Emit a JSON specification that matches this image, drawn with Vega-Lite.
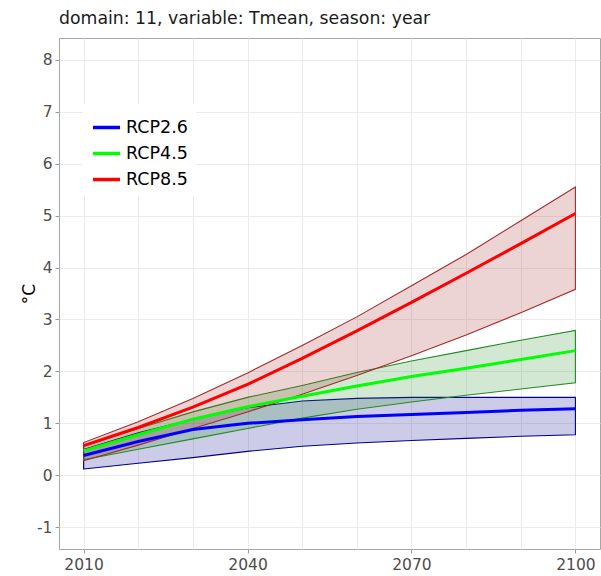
{
  "$schema": "https://vega.github.io/schema/vega-lite/v6.json",
  "width": 541,
  "height": 511,
  "autosize": {"type": "none"},
  "padding": {"left": 59, "top": 38, "right": 1, "bottom": 27},
  "background": "white",
  "title": {"text": "domain: 11, variable: Tmean, season: year", "anchor": "start", "frame": "group", "fontSize": 17.3, "font": "DejaVu Sans", "fontWeight": "normal", "color": "#1a1a1a", "offset": 11},
  "config": {
    "view": {"stroke": "#a6a6a6", "strokeWidth": 1},
    "axis": {"labelFont": "DejaVu Sans", "titleFont": "DejaVu Sans", "labelColor": "#4d4d4d", "labelFontSize": 15.5, "gridColor": "#ebebeb", "gridWidth": 1, "tickColor": "#999999", "tickSize": 4, "domain": false}
  },
  "data": {"values": [
    {"scenario": "RCP2.6", "year": 2010, "mean": 0.38, "lo": 0.12, "hi": 0.50},
    {"scenario": "RCP2.6", "year": 2020, "mean": 0.65, "lo": 0.23, "hi": 0.82},
    {"scenario": "RCP2.6", "year": 2030, "mean": 0.88, "lo": 0.34, "hi": 1.08},
    {"scenario": "RCP2.6", "year": 2040, "mean": 1.00, "lo": 0.46, "hi": 1.30},
    {"scenario": "RCP2.6", "year": 2050, "mean": 1.07, "lo": 0.56, "hi": 1.43},
    {"scenario": "RCP2.6", "year": 2060, "mean": 1.13, "lo": 0.62, "hi": 1.48},
    {"scenario": "RCP2.6", "year": 2070, "mean": 1.17, "lo": 0.67, "hi": 1.50},
    {"scenario": "RCP2.6", "year": 2080, "mean": 1.21, "lo": 0.71, "hi": 1.50},
    {"scenario": "RCP2.6", "year": 2090, "mean": 1.25, "lo": 0.75, "hi": 1.50},
    {"scenario": "RCP2.6", "year": 2100, "mean": 1.28, "lo": 0.78, "hi": 1.50},
    {"scenario": "RCP4.5", "year": 2010, "mean": 0.47, "lo": 0.30, "hi": 0.56},
    {"scenario": "RCP4.5", "year": 2020, "mean": 0.78, "lo": 0.50, "hi": 0.90},
    {"scenario": "RCP4.5", "year": 2030, "mean": 1.08, "lo": 0.70, "hi": 1.22},
    {"scenario": "RCP4.5", "year": 2040, "mean": 1.32, "lo": 0.90, "hi": 1.50},
    {"scenario": "RCP4.5", "year": 2050, "mean": 1.52, "lo": 1.10, "hi": 1.73},
    {"scenario": "RCP4.5", "year": 2060, "mean": 1.72, "lo": 1.27, "hi": 1.98},
    {"scenario": "RCP4.5", "year": 2070, "mean": 1.90, "lo": 1.41, "hi": 2.20},
    {"scenario": "RCP4.5", "year": 2080, "mean": 2.06, "lo": 1.54, "hi": 2.40},
    {"scenario": "RCP4.5", "year": 2090, "mean": 2.23, "lo": 1.66, "hi": 2.60},
    {"scenario": "RCP4.5", "year": 2100, "mean": 2.40, "lo": 1.78, "hi": 2.79},
    {"scenario": "RCP8.5", "year": 2010, "mean": 0.57, "lo": 0.28, "hi": 0.63},
    {"scenario": "RCP8.5", "year": 2020, "mean": 0.92, "lo": 0.58, "hi": 1.03},
    {"scenario": "RCP8.5", "year": 2030, "mean": 1.31, "lo": 0.90, "hi": 1.48},
    {"scenario": "RCP8.5", "year": 2040, "mean": 1.75, "lo": 1.22, "hi": 1.97},
    {"scenario": "RCP8.5", "year": 2050, "mean": 2.25, "lo": 1.56, "hi": 2.50},
    {"scenario": "RCP8.5", "year": 2060, "mean": 2.78, "lo": 1.92, "hi": 3.05},
    {"scenario": "RCP8.5", "year": 2070, "mean": 3.33, "lo": 2.30, "hi": 3.65},
    {"scenario": "RCP8.5", "year": 2080, "mean": 3.89, "lo": 2.70, "hi": 4.25},
    {"scenario": "RCP8.5", "year": 2090, "mean": 4.46, "lo": 3.13, "hi": 4.90},
    {"scenario": "RCP8.5", "year": 2100, "mean": 5.04, "lo": 3.58, "hi": 5.55}
  ]},
  "encoding": {
    "x": {"field": "year", "type": "quantitative", "title": null,
      "scale": {"domain": [2005.5, 2104.5], "nice": false, "zero": false},
      "axis": {"values": [2010, 2020, 2030, 2040, 2050, 2060, 2070, 2080, 2090, 2100], "labelExpr": "datum.value % 30 === 0 ? toString(datum.value) : ''", "tickOpacity": {"condition": {"test": "datum.value % 30 === 0", "value": 1}, "value": 0}, "labelPadding": 4, "labelFlush": false, "labelOverlap": false}}
  },
  "layer": [
    {
      "mark": {"type": "area", "fillOpacity": 0.2, "strokeWidth": 1.1, "strokeOpacity": 1},
      "encoding": {
        "y": {"field": "lo", "type": "quantitative", "title": "°C",
          "scale": {"domain": [-1.42, 8.42], "nice": false, "zero": false},
          "axis": {"values": [-1, -0.5, 0, 0.5, 1, 1.5, 2, 2.5, 3, 3.5, 4, 4.5, 5, 5.5, 6, 6.5, 7, 7.5, 8], "labelExpr": "datum.value % 1 === 0 ? toString(datum.value) : ''", "tickOpacity": {"condition": {"test": "datum.value % 1 === 0", "value": 1}, "value": 0}, "labelPadding": 3, "titleFontSize": 17, "titleColor": "#000000", "titleFontWeight": "normal", "titlePadding": -2, "labelOverlap": false}},
        "y2": {"field": "hi"},
        "fill": {"field": "scenario", "type": "nominal", "scale": {"domain": ["RCP2.6", "RCP4.5", "RCP8.5"], "range": ["#00008b", "#228b22", "#a52a2a"]}, "legend": null},
        "stroke": {"field": "scenario", "type": "nominal", "scale": {"domain": ["RCP2.6", "RCP4.5", "RCP8.5"], "range": ["#00008b", "#228b22", "#a52a2a"]}, "legend": null}
      }
    },
    {
      "mark": {"type": "rule", "color": "#8c8c8c", "strokeWidth": 1.3},
      "encoding": {"y": {"datum": 0, "type": "quantitative"}}
    },
    {
      "mark": {"type": "line", "strokeWidth": 3},
      "encoding": {
        "y": {"field": "mean", "type": "quantitative", "title": "°C"},
        "color": {"field": "scenario", "type": "nominal", "scale": {"domain": ["RCP2.6", "RCP4.5", "RCP8.5"], "range": ["#0000ff", "#00ff00", "#ff0000"]},
          "legend": {"title": null, "orient": "none", "legendX": 24, "legendY": 66, "labelFont": "DejaVu Sans", "labelFontSize": 17.5, "labelColor": "#000000", "symbolType": "stroke", "symbolStrokeWidth": 3.5, "symbolSize": 729, "rowPadding": 2, "labelOffset": 4, "fillColor": "white", "padding": 8}}
      }
    }
  ],
  "resolve": {"legend": {"color": "independent"}}
}
